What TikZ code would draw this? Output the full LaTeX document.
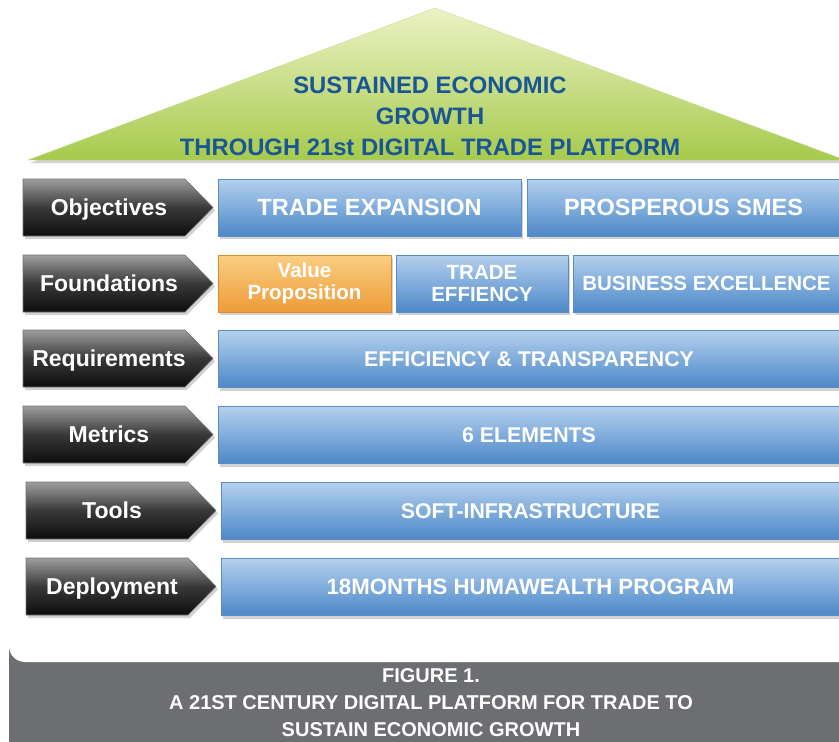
\documentclass[tikz,border=0pt]{standalone}
\usepackage{fontspec}
\setmainfont{Liberation Sans}
\usetikzlibrary{shadows}
\definecolor{roofblue}{RGB}{26,86,150}
\definecolor{rooftop}{RGB}{236,242,198}
\definecolor{roofbot}{RGB}{166,202,76}
\definecolor{capgray}{RGB}{109,110,114}
\definecolor{boxtop}{RGB}{180,208,238}
\definecolor{boxbot}{RGB}{76,136,200}
\definecolor{boxedge}{RGB}{92,140,196}
\definecolor{orgtop}{RGB}{250,206,130}
\definecolor{orgbot}{RGB}{238,156,56}
\tikzset{
  shade drop/.style={drop shadow={shadow xshift=2pt,shadow yshift=-3pt,opacity=0.35}},
  tag/.style={top color=black!38, bottom color=black!95, middle color=black!78,
    draw=black!55, line width=0.6pt, shade drop},
  tagtext/.style={text=white, anchor=base, font=\bfseries\fontsize{23}{25}\selectfont},
  bluebox/.style={top color=boxtop, bottom color=boxbot, draw=boxedge, line width=0.6pt,
    shade drop, minimum height=57, inner sep=0pt, text=white, align=center,
    font=\bfseries\fontsize{20.5}{22}\selectfont},
  widebox/.style={bluebox, font=\bfseries\fontsize{21.3}{23}\selectfont},
  orangebox/.style={bluebox, top color=orgtop, bottom color=orgbot, draw=orgbot!90!black},
  rooftext/.style={text=roofblue, align=center, font=\bfseries\fontsize{23.8}{31}\selectfont},
  captext/.style={text=white, align=center, font=\bfseries\fontsize{20}{27}\selectfont}
}
\def\tagarrow(#1,#2)#3#4{%
  \draw[tag] (#1,#2) -- ++(162,0) -- ++(28,28.5) -- ++(-28,28.5) -- ++(-162,0) -- cycle;
  \node[tagtext] (#3) at (#1+86,#2+36.5) {#4};}

\begin{document}
\begin{tikzpicture}[x=1pt,y=-1pt]
  \useasboundingbox (0,0) rectangle (839,742);
  \clip (0,0) rectangle (839,742);
  %%%%% START %%%%%
  \fill[capgray] (9,600) rectangle (839,742);
  \fill[white, rounded corners=16] (9,-30) rectangle (870,662);

  % roof
  \shade[top color=rooftop, bottom color=roofbot, draw=roofbot!60!white, shade drop]
    (28,160) -- (435,8) -- (845,160) -- cycle;
  \node[rooftext] (goal) at (430,116) {SUSTAINED ECONOMIC\\GROWTH\\THROUGH 21st DIGITAL TRADE PLATFORM};

  % left column
  \tagarrow(23,179){objectives}{Objectives}
  \tagarrow(23,255){foundations}{Foundations}
  \tagarrow(23,330){requirements}{Requirements}
  \tagarrow(23,406){metrics}{Metrics}
  \tagarrow(26,482){tools}{Tools}
  \tagarrow(26,558){deployment}{Deployment}

  % objectives
  \node[bluebox, minimum width=303, font=\bfseries\fontsize{23.5}{25}\selectfont] (expansion) at (369.5,207.5) {TRADE EXPANSION};
  \node[bluebox, minimum width=313, font=\bfseries\fontsize{23.5}{25}\selectfont] (smes) at (683.5,207.5) {PROSPEROUS SMES};

  % foundations
  \node[orangebox, minimum width=173] (value) at (304.5,283.5) {Value\\Proposition};
  \node[bluebox, minimum width=172] (effiency) at (482,283.5) {TRADE\\EFFIENCY};
  \node[bluebox, minimum width=267] (excellence) at (706.5,283.5) {BUSINESS EXCELLENCE};

  % requirements, metrics, tools, deployment
  \node[widebox, minimum width=622] (transparency) at (529,359) {EFFICIENCY \& TRANSPARENCY};
  \node[widebox, minimum width=622] (elements) at (529,435) {6 ELEMENTS};
  \node[widebox, minimum width=619] (infra) at (530.5,511) {SOFT-INFRASTRUCTURE};
  \node[widebox, minimum width=619, font=\bfseries\fontsize{22.2}{24}\selectfont] (program) at (530.5,587) {18MONTHS HUMAWEALTH PROGRAM};

  % caption
  \node[captext] (caption) at (431,703) {FIGURE 1.\\A 21ST CENTURY DIGITAL PLATFORM FOR TRADE TO\\SUSTAIN ECONOMIC GROWTH};
  %%%%% END %%%%%
\end{tikzpicture}
\end{document}
